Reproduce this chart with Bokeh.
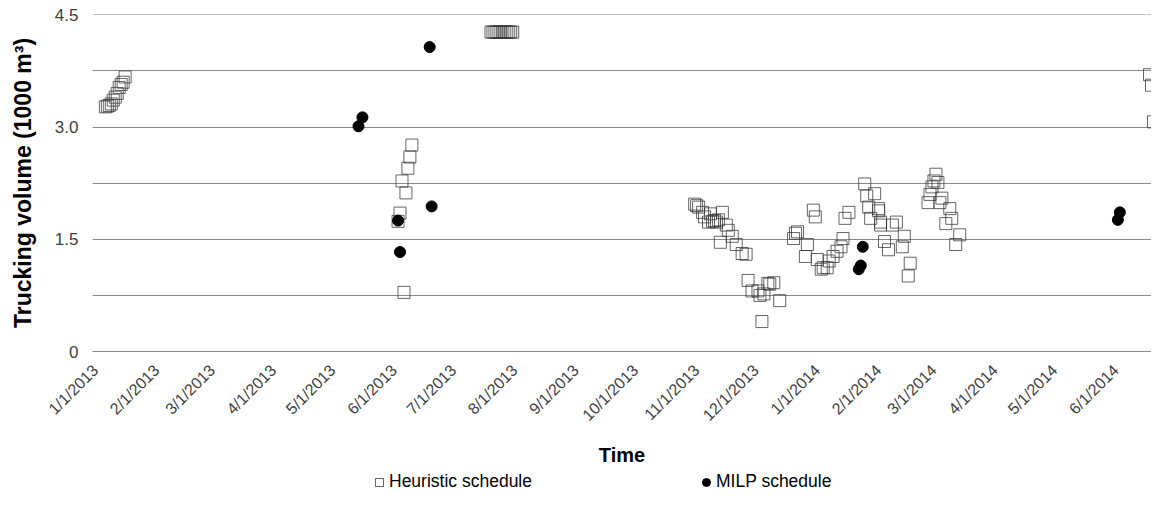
import math
import pandas as pd
from bokeh.plotting import figure
from bokeh.layouts import column
from bokeh.models import Range1d, FixedTicker, Legend, LegendItem
from bokeh.embed import file_html
from bokeh.resources import INLINE

# ---------------- data ----------------
heur_dates = [
    "2013-01-06", "2013-01-07", "2013-01-08", "2013-01-09", "2013-01-10", "2013-01-11",
    "2013-01-12", "2013-01-13", "2013-01-14", "2013-01-15", "2013-01-16",
    "2013-06-03", "2013-06-04", "2013-06-05", "2013-06-06", "2013-06-07", "2013-06-08",
    "2013-06-09", "2013-06-10",
    "2013-07-20", "2013-07-21", "2013-07-22", "2013-07-23", "2013-07-24", "2013-07-25",
    "2013-07-26", "2013-07-27", "2013-07-28", "2013-07-29", "2013-07-30", "2013-07-31",
    "2013-10-31", "2013-11-01", "2013-11-02", "2013-11-04", "2013-11-05", "2013-11-07",
    "2013-11-08", "2013-11-09", "2013-11-10", "2013-11-11", "2013-11-12", "2013-11-13",
    "2013-11-14", "2013-11-16", "2013-11-17", "2013-11-19", "2013-11-21", "2013-11-24",
    "2013-11-26", "2013-11-27", "2013-11-29", "2013-12-02", "2013-12-03", "2013-12-04",
    "2013-12-05", "2013-12-07", "2013-12-08", "2013-12-10", "2013-12-13",
    "2013-12-20", "2013-12-21", "2013-12-22", "2013-12-26", "2013-12-27", "2013-12-30",
    "2013-12-31", "2014-01-01", "2014-01-03", "2014-01-04", "2014-01-06", "2014-01-07",
    "2014-01-09", "2014-01-11", "2014-01-13", "2014-01-14", "2014-01-15", "2014-01-17",
    "2014-01-25", "2014-01-26", "2014-01-27", "2014-01-28", "2014-01-30", "2014-02-01",
    "2014-02-01", "2014-02-02", "2014-02-02", "2014-02-04", "2014-02-06", "2014-02-08",
    "2014-02-10", "2014-02-13", "2014-02-14", "2014-02-16", "2014-02-17",
    "2014-02-26", "2014-02-27", "2014-02-28", "2014-03-01", "2014-03-02", "2014-03-03",
    "2014-03-04", "2014-03-05", "2014-03-07", "2014-03-09", "2014-03-10", "2014-03-12",
    "2014-03-14",
    "2014-06-18", "2014-06-19", "2014-06-20",
]
heur_vals = [
    3.27, 3.28, 3.29, 3.31, 3.36, 3.40,
    3.45, 3.53, 3.57, 3.60, 3.67,
    1.74, 1.85, 2.28, 0.79, 2.12, 2.45,
    2.60, 2.76,
    4.27, 4.27, 4.27, 4.27, 4.27, 4.27,
    4.27, 4.27, 4.27, 4.27, 4.27, 4.27,
    1.97, 1.95, 1.93, 1.86, 1.80, 1.73,
    1.84, 1.74, 1.75, 1.73, 1.76, 1.46,
    1.86, 1.69, 1.62, 1.54, 1.43, 1.31,
    1.30, 0.95, 0.81, 0.81, 0.75, 0.40,
    0.77, 0.91, 0.90, 0.92, 0.68,
    1.51, 1.58, 1.60, 1.27, 1.43, 1.89,
    1.80, 1.23, 1.10, 1.12, 1.12, 1.21,
    1.27, 1.34, 1.40, 1.51, 1.78, 1.86,
    2.24, 2.08, 1.93, 1.78, 2.11, 1.91,
    1.88, 1.73, 1.69, 1.47, 1.36, 1.69,
    1.73, 1.40, 1.54, 1.01, 1.18,
    1.99, 2.10, 2.20, 2.28, 2.37, 2.26,
    1.99, 2.05, 1.71, 1.91, 1.78, 1.43,
    1.56,
    3.70, 3.56, 3.07,
]

milp_dates = [
    "2013-05-14", "2013-05-16", "2013-06-03", "2013-06-04", "2013-06-19", "2013-06-20",
    "2014-01-22", "2014-01-23", "2014-01-24",
    "2014-06-02", "2014-06-03",
]
milp_vals = [
    3.01, 3.13, 1.75, 1.33, 4.07, 1.94,
    1.10, 1.15, 1.40,
    1.76, 1.86,
]

month_ticks = [
    "2013-01-01", "2013-02-01", "2013-03-01", "2013-04-01", "2013-05-01", "2013-06-01",
    "2013-07-01", "2013-08-01", "2013-09-01", "2013-10-01", "2013-11-01", "2013-12-01",
    "2014-01-01", "2014-02-01", "2014-03-01", "2014-04-01", "2014-05-01", "2014-06-01",
]
month_labels = [
    "1/1/2013", "2/1/2013", "3/1/2013", "4/1/2013", "5/1/2013", "6/1/2013",
    "7/1/2013", "8/1/2013", "9/1/2013", "10/1/2013", "11/1/2013", "12/1/2013",
    "1/1/2014", "2/1/2014", "3/1/2014", "4/1/2014", "5/1/2014", "6/1/2014",
]
y_ticks = [0, 1.5, 3, 4.5]
y_labels = ["0", "1.5", "3.0", "4.5"]
y_grid = [0, 0.75, 1.5, 2.25, 3.0, 3.75, 4.5]
series_names = ["Heuristic schedule", "MILP schedule"]

# ---------------- helpers ----------------
origin = pd.Timestamp("2013-01-01")


def to_days(ds):
    return [int((pd.Timestamp(d) - origin).days) for d in ds]


hx = to_days(heur_dates)
mx = to_days(milp_dates)
tx = to_days(month_ticks)

FONT = "Liberation Sans"
GRID = "#898989"
SQ_STYLE = dict(marker="square", size=12, fill_color=None,
                line_color="#333333", line_alpha=0.75, line_width=1)
CI_STYLE = dict(marker="circle", size=11, fill_color="black", line_color="black")

p = figure(
    width=1151, height=468,
    x_range=Range1d(-1.5, 534), y_range=Range1d(0, 4.505),
    output_backend="svg", toolbar_location=None,
    min_border_left=92, min_border_right=0, min_border_top=14, min_border_bottom=116,
)
p.outline_line_color = None
p.background_fill_color = "white"
p.border_fill_color = "white"

# grid
p.xgrid.grid_line_color = None
p.ygrid.ticker = FixedTicker(ticks=y_grid)
p.ygrid.grid_line_color = GRID
p.ygrid.grid_line_width = 1

# x axis
xa = p.xaxis[0]
xa.ticker = FixedTicker(ticks=tx)
xa.major_label_overrides = {d: lab for d, lab in zip(tx, month_labels)}
xa.major_label_orientation = math.pi / 4
xa.major_tick_line_color = None
xa.minor_tick_line_color = None
xa.major_tick_out = 0
xa.major_tick_in = 0
xa.minor_tick_out = 0
xa.axis_line_color = GRID
xa.major_label_standoff = 16
xa.major_label_text_font = FONT
xa.major_label_text_font_size = "16px"
xa.major_label_text_color = "#404040"
xa.axis_label = "Time"
xa.axis_label_text_font = FONT
xa.axis_label_text_font_size = "20px"
xa.axis_label_text_font_style = "bold"
xa.axis_label_text_color = "black"
xa.axis_label_standoff = 11

# y axis
ya = p.yaxis[0]
ya.ticker = FixedTicker(ticks=y_ticks)
ya.major_label_overrides = {v: lab for v, lab in zip(y_ticks, y_labels)}
ya.major_tick_line_color = None
ya.minor_tick_line_color = None
ya.major_tick_out = 0
ya.major_tick_in = 0
ya.minor_tick_out = 0
ya.axis_line_color = None
ya.major_label_standoff = 14
ya.major_label_text_font = FONT
ya.major_label_text_font_size = "17px"
ya.major_label_text_color = "#404040"
ya.axis_label = "Trucking volume (1000 m³)"
ya.axis_label_text_font = FONT
ya.axis_label_text_font_size = "23px"
ya.axis_label_text_font_style = "bold"
ya.axis_label_text_color = "black"
ya.axis_label_standoff = 16

# data
p.scatter(hx, heur_vals, **SQ_STYLE)
p.scatter(mx, milp_vals, **CI_STYLE)

# ---------------- legend strip ----------------
lg = figure(
    width=1151, height=24, x_range=Range1d(0, 1), y_range=Range1d(0, 1),
    output_backend="svg", toolbar_location=None,
    min_border_left=0, min_border_right=0, min_border_top=0, min_border_bottom=0,
    x_axis_type=None, y_axis_type=None,
)
lg.outline_line_color = None
lg.grid.visible = False
# legend-only renderers: their single point lies outside the strip's visible range
lr1 = lg.scatter([5], [5], **SQ_STYLE)
lr2 = lg.scatter([5], [5], **CI_STYLE)
legend = Legend(
    items=[LegendItem(label=series_names[0], renderers=[lr1]),
           LegendItem(label=series_names[1], renderers=[lr2])],
    orientation="horizontal", location=(277, 0),
    border_line_color=None, background_fill_alpha=0,
    padding=0, margin=0, spacing=164,
    glyph_width=20, glyph_height=20, label_standoff=0,
    label_text_font=FONT, label_text_font_size="17.5px", label_text_color="black",
)
lg.add_layout(legend, "center")

open("out.html", "w").write(file_html(column(p, lg, spacing=0), INLINE))
